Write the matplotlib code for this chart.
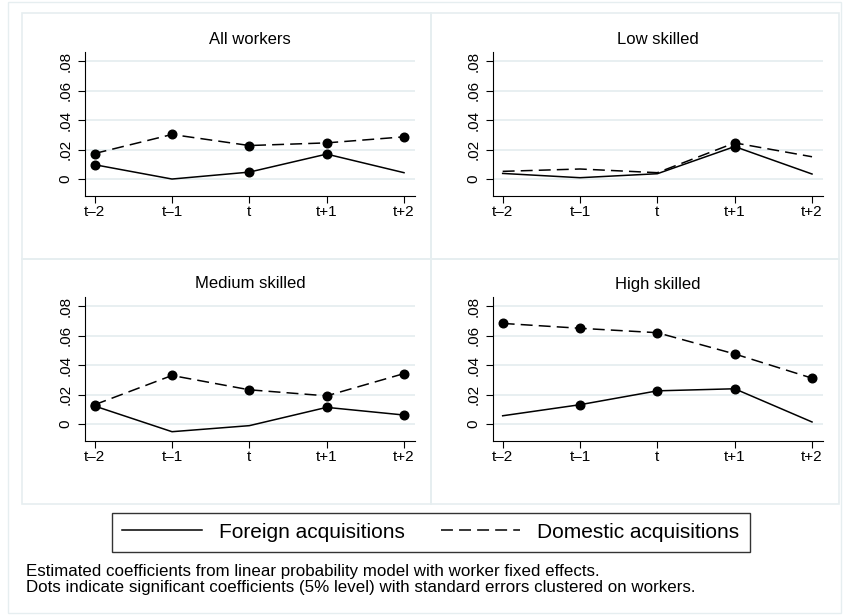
import matplotlib
matplotlib.use("Agg")
import matplotlib.pyplot as plt
from matplotlib.lines import Line2D
from matplotlib.patches import Rectangle

plt.rcParams['font.family'] = ['Liberation Sans', 'DejaVu Sans']
plt.rcParams['lines.scale_dashes'] = False

periods = ["t\u20132", "t\u20131", "t", "t+1", "t+2"]
xpos = [-2, -1, 0, 1, 2]
yticks = [0, 0.02, 0.04, 0.06, 0.08]
ylabels = ["0", ".02", ".04", ".06", ".08"]

titles = ["All workers", "Low skilled", "Medium skilled", "High skilled"]

foreign = [
    [0.0097, 0.0000, 0.0047, 0.0169, 0.0043],
    [0.0038, 0.0009, 0.0036, 0.0220, 0.0034],
    [0.0122, -0.0052, -0.0011, 0.0113, 0.0061],
    [0.0056, 0.0131, 0.0225, 0.0239, 0.0014],
]
foreign_sig = [
    [1, 0, 1, 1, 0],
    [0, 0, 0, 1, 0],
    [1, 0, 0, 1, 1],
    [0, 1, 1, 1, 0],
]
domestic = [
    [0.0173, 0.0302, 0.0227, 0.0245, 0.0286],
    [0.0052, 0.0068, 0.0043, 0.0245, 0.0151],
    [0.0131, 0.0329, 0.0232, 0.0191, 0.0342],
    [0.0682, 0.0649, 0.0619, 0.0475, 0.0311],
]
domestic_sig = [
    [1, 1, 1, 1, 1],
    [0, 0, 0, 1, 0],
    [1, 1, 1, 1, 1],
    [1, 1, 1, 1, 1],
]

W, H = 843, 615
fig = plt.figure(figsize=(W / 100, H / 100), dpi=100)
light = '#e6eef0'
dash = (8.6, 4.4)

def px_rect(x0, y0, x1, y1):
    return [x0 / W, 1 - y1 / H, (x1 - x0) / W, (y1 - y0) / H]

# outer frame and panel boxes
fig.patches.append(Rectangle((8 / W, 1 - 613 / H), 833 / W, 611 / H, transform=fig.transFigure,
                             fill=False, ec=light, lw=1))
for (x0, y0, x1, y1) in [(22, 13, 431, 259), (431, 13, 839, 259),
                         (22, 259, 431, 504), (431, 259, 839, 504)]:
    fig.patches.append(Rectangle((x0 / W, 1 - y1 / H), (x1 - x0) / W, (y1 - y0) / H,
                                 transform=fig.transFigure, fill=False, ec=light, lw=1.2))

ax_boxes = [(85, 52, 415, 196), (493, 52, 823, 196), (85, 297, 415, 441), (493, 297, 823, 441)]
title_y = [39, 39, 284, 284]

for i in range(4):
    ax = fig.add_axes(px_rect(*ax_boxes[i]))
    ax.set_xlim(-2.125, 2.142)
    ax.set_ylim(-0.0115, 0.0861)
    ax.yaxis.grid(True, color=light, lw=1.3)
    ax.set_axisbelow(True)
    ax.plot(xpos, foreign[i], color='black', lw=1.1)
    ax.plot(xpos, domestic[i], color='black', lw=1.1, dashes=dash)
    fx = [x for x, s in zip(xpos, foreign_sig[i]) if s]
    fy = [y for y, s in zip(foreign[i], foreign_sig[i]) if s]
    dx = [x for x, s in zip(xpos, domestic_sig[i]) if s]
    dy = [y for y, s in zip(domestic[i], domestic_sig[i]) if s]
    ax.plot(fx, fy, 'o', color='black', ms=6.2)
    ax.plot(dx, dy, 'o', color='black', ms=6.2)
    ax.set_xticks(xpos)
    ax.set_xticklabels(periods, fontsize=11)
    ax.set_yticks(yticks)
    ax.set_yticklabels(ylabels, fontsize=11, rotation=90, va='center')
    for s in ['top', 'right']:
        ax.spines[s].set_visible(False)
    for s in ['left', 'bottom']:
        ax.spines[s].set_linewidth(0.8)
    ax.tick_params(axis='both', length=5, width=0.8, colors='black')
    ax.tick_params(axis='x', pad=1.5)
    ax.tick_params(axis='y', pad=4)
    cx = (ax_boxes[i][0] + ax_boxes[i][2]) / 2
    fig.text(cx / W, 1 - title_y[i] / H, titles[i], ha='center', va='center', fontsize=12)

handles = [Line2D([], [], color='black', lw=1.1),
           Line2D([], [], color='black', lw=1.1, dashes=dash)]
leg = fig.legend(handles, ["Foreign acquisitions", "Domestic acquisitions"], ncol=2,
                 loc='center', bbox_to_anchor=(431 / W, 1 - 532 / H), fontsize=15,
                 frameon=True, fancybox=False, edgecolor='black', handlelength=3.8,
                 handletextpad=0.85, columnspacing=1.7, borderpad=0.48, borderaxespad=0)
leg.get_frame().set_linewidth(1)

fig.text(26 / W, 1 - 576 / H, "Estimated coefficients from linear probability model with worker fixed effects.",
         fontsize=12.2, va='baseline')
fig.text(26 / W, 1 - 592 / H, "Dots indicate significant coefficients (5% level) with standard errors clustered on workers.",
         fontsize=12.2, va='baseline')

fig.savefig("out.png", dpi=100)
